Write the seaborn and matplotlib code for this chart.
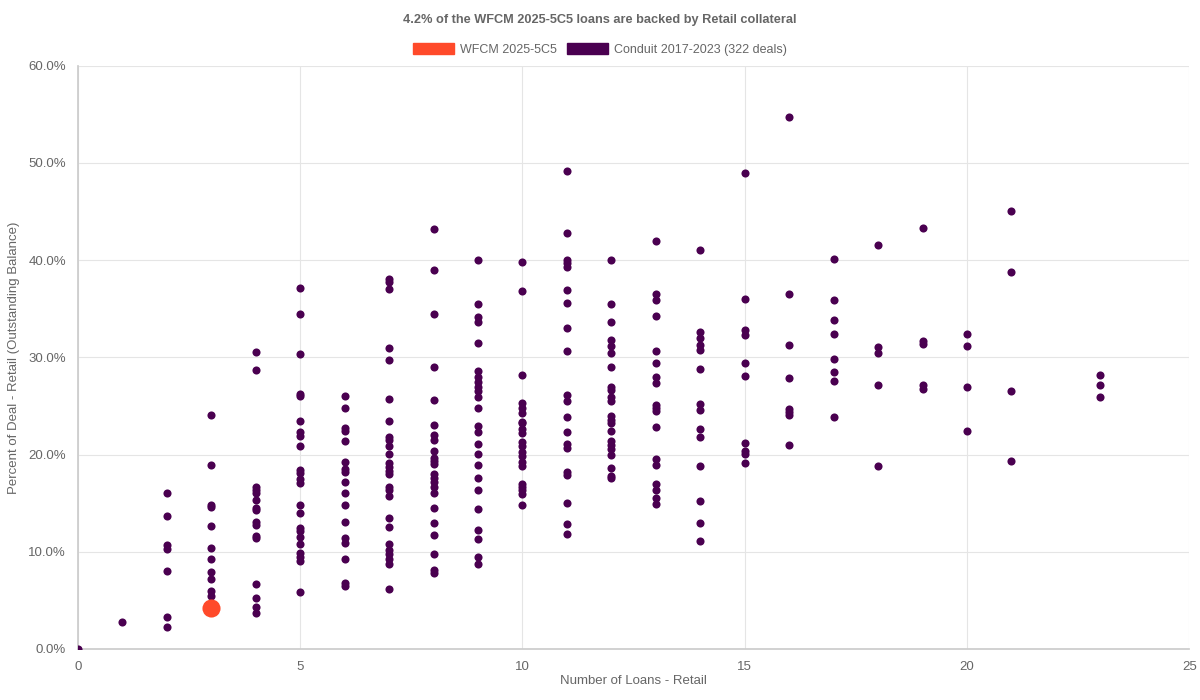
import matplotlib
matplotlib.use("Agg")
import matplotlib.pyplot as plt
import pandas as pd
import seaborn as sns
from matplotlib.patches import Patch
from matplotlib.ticker import FuncFormatter, MultipleLocator

sns.set_theme(style="white")
plt.rcParams["font.family"] = "Liberation Sans"

# Conduit deals: percent of deal balance by number of retail loans
conduit_pct_by_loans = {
    0: [0.0],
    1: [2.8],
    2: [16.0, 13.7, 10.7, 10.3, 8.0, 3.3, 2.3],
    3: [24.1, 18.9, 14.8, 14.6, 12.6, 10.4, 9.3, 7.9, 7.2, 6.0, 5.4],
    4: [30.5, 28.7, 16.7, 16.4, 16.0, 15.3, 14.5, 14.3, 13.1, 12.7, 11.6, 11.4, 6.7, 5.2, 4.3, 3.7],
    5: [37.1, 34.5, 30.3, 26.2, 26.0, 23.4, 22.3, 21.9, 20.9, 18.4, 18.1, 17.5, 17.1, 14.8,
        14.0, 12.4, 12.1, 11.5, 10.8, 9.9, 9.5, 9.0, 5.9],
    6: [26.0, 24.8, 22.7, 22.4, 21.4, 19.2, 18.5, 18.2, 17.2, 16.0, 14.8, 13.1, 11.4, 10.9,
        9.2, 6.8, 6.5],
    7: [38.1, 37.8, 37.0, 31.0, 29.7, 25.7, 23.5, 21.8, 21.5, 20.9, 20.1, 19.1, 18.7, 18.3,
        18.0, 16.7, 16.4, 15.7, 13.5, 12.5, 10.8, 10.2, 9.8, 9.2, 8.7, 6.2],
    8: [43.2, 39.0, 34.5, 29.0, 25.6, 23.0, 22.0, 21.5, 20.4, 19.6, 19.3, 19.0, 18.0, 17.6,
        17.2, 16.7, 16.0, 14.5, 13.0, 11.7, 9.8, 8.1, 7.8],
    9: [40.0, 35.5, 34.2, 33.6, 31.5, 28.6, 28.0, 27.5, 26.9, 26.5, 25.9, 24.8, 22.9, 22.3,
        21.1, 20.1, 18.9, 17.6, 16.4, 14.4, 12.2, 11.3, 9.5, 8.7],
    10: [39.8, 36.8, 28.2, 25.3, 24.8, 24.3, 23.3, 23.2, 22.6, 22.2, 21.3, 20.9, 20.3, 19.8,
         19.2, 18.8, 17.0, 16.7, 16.4, 15.9, 14.8],
    11: [49.2, 42.8, 40.0, 39.7, 39.3, 36.9, 35.6, 33.0, 30.7, 26.1, 25.5, 23.9, 22.3, 21.1,
         20.7, 18.2, 17.9, 15.0, 12.9, 11.8],
    12: [40.0, 35.5, 33.6, 31.8, 31.2, 30.4, 29.0, 27.0, 26.6, 25.9, 25.5, 24.0, 23.6, 23.2,
         22.4, 21.4, 21.0, 20.6, 20.0, 18.6, 17.8, 17.6],
    13: [42.0, 36.5, 35.9, 34.3, 30.7, 29.4, 28.0, 27.4, 25.1, 24.8, 24.5, 22.8, 19.5, 18.9,
         17.0, 16.3, 15.5, 14.9],
    14: [41.0, 32.6, 32.0, 31.3, 30.8, 28.8, 25.2, 24.6, 22.6, 21.8, 18.8, 15.2, 13.0, 11.1],
    15: [49.0, 36.0, 32.8, 32.3, 29.4, 28.1, 21.2, 20.4, 20.1, 19.1],
    16: [54.7, 36.5, 31.3, 27.9, 24.7, 24.4, 24.1, 21.0],
    17: [40.1, 35.9, 33.8, 32.4, 29.8, 28.5, 27.6, 23.9],
    18: [41.6, 31.1, 30.4, 27.2, 18.8],
    19: [43.3, 31.7, 31.4, 27.2, 26.7],
    20: [32.4, 31.2, 27.0, 22.4],
    21: [45.1, 38.8, 26.5, 19.3],
    23: [28.2, 27.2, 25.9],
}
deal_loans = [3]
deal_pct = [4.2]

conduit = pd.DataFrame(
    [(k, v) for k, vals in conduit_pct_by_loans.items() for v in vals],
    columns=["loans", "pct"],
)
deal = pd.DataFrame({"loans": deal_loans, "pct": deal_pct})

purple = "#4a0050"
orange = "#ff4a2a"
grey = "#666666"

fig, ax = plt.subplots(figsize=(12, 7), dpi=100)
fig.subplots_adjust(left=0.065, right=0.991, top=0.906, bottom=0.073)

sns.scatterplot(data=conduit, x="loans", y="pct", color=purple, s=34,
                edgecolor=purple, linewidth=0, ax=ax, zorder=3)
sns.scatterplot(data=deal, x="loans", y="pct", color=orange, s=170,
                edgecolor=orange, linewidth=0, ax=ax, zorder=4)

ax.set_xlim(0, 25)
ax.set_ylim(0, 60)
ax.xaxis.set_major_locator(MultipleLocator(5))
ax.yaxis.set_major_locator(MultipleLocator(10))
ax.yaxis.set_major_formatter(FuncFormatter(lambda v, _: f"{v:.1f}%"))
ax.grid(True, color="#e5e5e5", linewidth=0.8)
ax.set_axisbelow(True)
for side in ["top", "right"]:
    ax.spines[side].set_visible(False)
for side in ["left", "bottom"]:
    ax.spines[side].set_color("#cccccc")
ax.tick_params(colors=grey, labelsize=9.5, length=5, color="#e5e5e5")

ax.set_xlabel("Number of Loans - Retail", color=grey, fontsize=9.5, labelpad=2)
ax.set_ylabel("Percent of Deal - Retail (Outstanding Balance)", color=grey, fontsize=9.5,
              labelpad=6)

fig.suptitle("4.2% of the WFCM 2025-5C5 loans are backed by Retail collateral",
             y=0.98, fontsize=9.2, fontweight="bold", color=grey)
handles = [Patch(color=orange, label="WFCM 2025-5C5"),
           Patch(color=purple, label="Conduit 2017-2023 (322 deals)")]
fig.legend(handles=handles, loc="upper center", bbox_to_anchor=(0.5, 0.955), ncol=2,
           frameon=False, fontsize=9, handlelength=3.3, handleheight=1.0,
           handletextpad=0.5, columnspacing=0.8, labelcolor=grey)

fig.savefig("out.png", dpi=100)
